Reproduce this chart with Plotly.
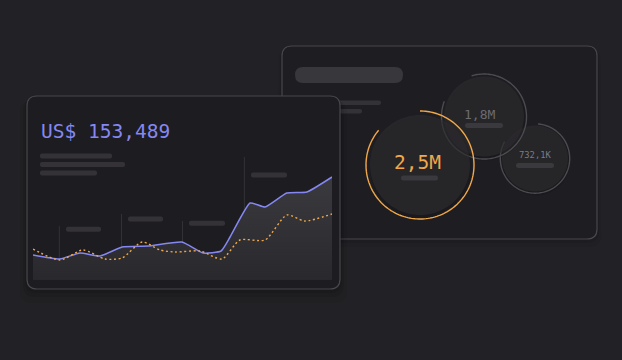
import numpy as np
import plotly.graph_objects as go

W, H = 622, 360

# ---- data ----
x_blue = [0, 9.0, 15.7, 22.4, 29.8, 38.5, 49.8, 56.9, 62.9, 65.9, 72.6, 77.6, 84.9, 91.6, 100]
blue = [25, 21, 27, 24, 33, 34, 38, 27, 29, 43, 77, 73, 87, 88, 103]
x_orange = [0, 9.0, 16.7, 24.1, 29.8, 36.5, 42.5, 47.5, 55.9, 63.2, 69.2, 77.6, 84.9, 90.9, 100]
orange = [31, 20, 30, 21, 22, 38, 30, 28, 29, 21, 40, 40, 65, 59, 66]
grid_x = [8.8, 29.6, 50.0, 70.7]
grid_top = [54, 66, 59, 123]
headline = "US$ 153,489"
bubble_labels = ["2,5M", "1,8M", "732,1K"]

BG = "#222125"
PANEL = "#1d1c20"
BORDER = "#49474c"
BAR = "#343236"
BLUE = "#8588f2"
ORANGE = "#f0a84a"
MONO = "DejaVu Sans Mono"


def P(x, y):
    return f"{x / W:.5f},{1 - y / H:.5f}"


def rrect(x0, y0, x1, y1, r=10):
    return (f"M{P(x0 + r, y0)} L{P(x1 - r, y0)} Q{P(x1, y0)} {P(x1, y0 + r)} "
            f"L{P(x1, y1 - r)} Q{P(x1, y1)} {P(x1 - r, y1)} L{P(x0 + r, y1)} "
            f"Q{P(x0, y1)} {P(x0, y1 - r)} L{P(x0, y0 + r)} Q{P(x0, y0)} {P(x0 + r, y0)} Z")


def arc(cx, cy, r, a0, a1, n=160, close=False):
    th = np.radians(np.linspace(a0, a1, n))
    pts = [P(cx + r * np.cos(t), cy - r * np.sin(t)) for t in th]
    s = "M" + " L".join(pts)
    return s + (" Z" if close else "")


shapes = []


def add_path(path, fill=None, line=None, lw=0, layer="below"):
    shapes.append(dict(type="path", path=path, xref="paper", yref="paper",
                       fillcolor=fill if fill else "rgba(0,0,0,0)",
                       line=dict(color=line if line else "rgba(0,0,0,0)", width=lw),
                       layer=layer))


# ---- right panel ----
for k, a in [(8, 0.05), (4, 0.08)]:
    add_path(rrect(282 - k / 2, 46 + k / 2, 597 + k / 2, 239 + k, 12), fill=f"rgba(0,0,0,{a})")
add_path(rrect(282, 46, 597, 239, 10), fill="#1e1d21", line=BORDER, lw=1.2)
add_path(rrect(295, 67, 403, 83, 8), fill="#38373b")
add_path(rrect(300, 100.5, 381, 105, 2), fill="#333236")
add_path(rrect(300, 109, 362, 113.5, 2), fill="#333236")

# bubbles: (cx, cy, ring r, disc r, ring colour, gap start, gap end)
bubbles = [
    (535, 158.5, 34.7, 33, "#4c4b4f", 85, 151),
    (484, 116.5, 42.5, 40, "#4c4b4f", 107, 159),
    (420, 165, 54, 50, ORANGE, 90, 140),
]
for cx, cy, r, dr, col, g0, g1 in bubbles:
    add_path(arc(cx + 1, cy + 3, dr + 1, 0, 360, close=True), fill="rgba(0,0,0,0.12)")
    add_path(arc(cx, cy, dr, 0, 360, close=True), fill="rgba(46,45,49,0.6)")
    add_path(arc(cx, cy, r, g1, g0 + 360), line=col, lw=1.4)

# bars under bubble labels
add_path(rrect(401, 175.5, 438, 180.5, 2.5), fill="#3a393d")
add_path(rrect(465, 123, 503, 128, 2.5), fill="#3a393d")
add_path(rrect(516, 163, 554, 168, 2.5), fill="#3a393d")

# ---- left panel ----
for k, a in [(14, 0.06), (8, 0.08), (4, 0.1)]:
    add_path(rrect(27 - k / 2, 96 + k / 3, 340 + k / 2, 289 + k, 12), fill=f"rgba(0,0,0,{a})")
add_path(rrect(27, 96, 340, 289, 10), fill=PANEL, line=BORDER, lw=1.2)

# placeholder text lines
add_path(rrect(40, 153.5, 112, 158.5, 2), fill=BAR)
add_path(rrect(40, 162, 125, 167, 2), fill=BAR)
add_path(rrect(40, 170.5, 97, 175.5, 2), fill=BAR)
# chart label bars
for x0, x1, yc in [(66, 101, 229.3), (128, 163, 219), (189, 225, 223.3), (251, 287, 175)]:
    add_path(rrect(x0, yc - 2.5, x1, yc + 2.5, 2), fill=BAR)

# gridlines in data coordinates
for gx, gt in zip(grid_x, grid_top):
    shapes.append(dict(type="line", xref="x", yref="y", x0=gx, x1=gx, y0=0, y1=gt,
                       line=dict(color="#333136", width=1), layer="below"))

fig = go.Figure()
fig.add_trace(go.Scatter(
    x=x_blue, y=blue, mode="lines", line=dict(color=BLUE, width=1.5, shape="spline", smoothing=0.45),
    fill="tozeroy",
    fillgradient=dict(type="vertical", start=0, stop=105,
                      colorscale=[[0, "#29282c"], [1, "#3b3a3f"]]),
    hoverinfo="skip", showlegend=False))
fig.add_trace(go.Scatter(
    x=x_orange, y=orange, mode="lines",
    line=dict(color=ORANGE, width=1.4, dash="2px,2.6px", shape="spline", smoothing=0.7),
    hoverinfo="skip", showlegend=False))

annotations = [
    dict(text=headline, x=38.5 / W, y=1 - 131 / H, xanchor="left", yanchor="middle",
         font=dict(family=MONO, size=19.5, color=BLUE)),
    dict(text=bubble_labels[0], x=417 / W, y=1 - 162.5 / H, xanchor="center", yanchor="middle",
         font=dict(family=MONO, size=19.5, color=ORANGE)),
    dict(text=bubble_labels[1], x=479.5 / W, y=1 - 114.5 / H, xanchor="center", yanchor="middle",
         font=dict(family=MONO, size=13, color="#6c6b70")),
    dict(text=bubble_labels[2], x=534.5 / W, y=1 - 155 / H, xanchor="center", yanchor="middle",
         font=dict(family=MONO, size=8.8, color="#7d7c81")),
]
for a in annotations:
    a.update(xref="paper", yref="paper", showarrow=False)

fig.update_layout(
    width=W, height=H, margin=dict(l=0, r=0, t=0, b=0),
    paper_bgcolor=BG, plot_bgcolor="rgba(0,0,0,0)",
    shapes=shapes, annotations=annotations,
    xaxis=dict(domain=[33 / W, 332 / W], range=[0, 100], visible=False, fixedrange=True),
    yaxis=dict(domain=[1 - 280 / H, 1 - 150 / H], range=[0, 130], visible=False, fixedrange=True),
)
fig.write_html("out.html")
